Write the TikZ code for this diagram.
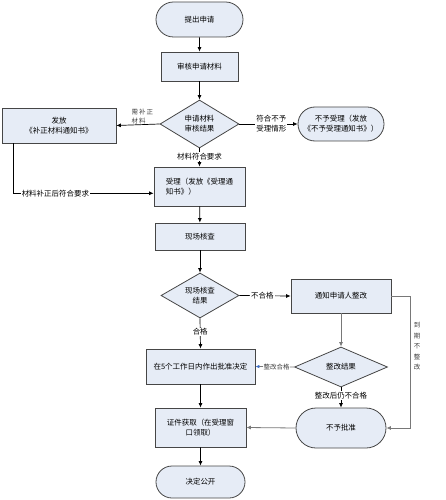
\documentclass[tikz,border=0pt]{standalone}
\usepackage{fontspec}
\setmainfont{Noto Sans CJK SC}
\usetikzlibrary{shapes.geometric,shapes.misc,arrows.meta}
\definecolor{boxfill}{RGB}{230,236,246}
\definecolor{boxline}{RGB}{70,70,70}
\definecolor{linegray}{RGB}{120,120,120}
\definecolor{tipblue}{RGB}{60,110,200}
\tikzset{
  every node/.style={font=\fontsize{7.5}{10}\selectfont, inner sep=1pt},
  procbox/.style={draw=boxline, fill=boxfill, line width=0.8bp, rectangle, align=center, inner sep=2pt},
  termbox/.style={draw=boxline, fill=boxfill, line width=0.8bp, rounded rectangle, align=center, inner sep=2pt},
  decbox/.style={draw=boxline, fill=boxfill, line width=0.8bp, diamond, aspect=1.6, align=center, inner sep=0pt},
  conn/.style={draw=black, line width=0.7bp, -{Latex[length=4.5bp,width=4bp]}},
  gconn/.style={draw=linegray, line width=0.8bp, -{Latex[length=4.5bp,width=4bp]}},
  onlab/.style={fill=white, inner sep=1pt},
  smalllab/.style={font=\fontsize{6.5}{8}\selectfont, text=black!75, align=left, inner sep=0.5pt}
}
\begin{document}
\begin{tikzpicture}[x=1bp,y=-1bp]
\useasboundingbox (0,0) rectangle (446,500);

\node[termbox, minimum width=91bp, minimum height=35bp] (start) at (199.5,19.5) {提出申请};
\node[procbox, minimum width=77bp, minimum height=29bp] (review) at (199.5,66.5) {审核申请材料};
\node[decbox, minimum width=79bp, minimum height=48bp] (d1) at (199.5,124) {申请材料\\审核结果};
\node[procbox, minimum width=114bp, minimum height=35bp] (supp) at (59,125.5) {发放\\《补正材料通知书》};
\node[termbox, minimum width=90bp, minimum height=34bp] (reject1) at (341,124) {不予受理（发放\\《不予受理通知书》）};
\node[procbox, minimum width=91bp, minimum height=39bp, align=left] (accept) at (199.5,186.5) {受理（发放《受理通\\知书》）};
\node[procbox, minimum width=90bp, minimum height=27bp] (check) at (200,236.5) {现场核查};
\node[decbox, minimum width=78bp, minimum height=45bp] (d2) at (200,295.5) {现场核查\\结果};
\node[procbox, minimum width=100bp, minimum height=34bp] (notify) at (341,296) {通知申请人整改};
\node[procbox, minimum width=109bp, minimum height=35bp] (approve) at (200.5,366.5) {在5个工作日内作出批准决定};
\node[decbox, minimum width=93bp, minimum height=40bp] (d3) at (341,367) {整改结果};
\node[termbox, minimum width=94bp, minimum height=40bp] (deny) at (341,428) {不予批准};
\node[procbox, minimum width=91bp, minimum height=39bp] (cert) at (200.5,427.5) {证件获取（在受理窗\\口领取）};
\node[termbox, minimum width=93bp, minimum height=32bp] (pub) at (200.5,482) {决定公开};

\coordinate (suppdown) at (13.3,193.3);
\coordinate (acceptin) at (accept.west |- suppdown);
\coordinate (rightup) at (410,296);
\coordinate (rightdown) at (410,428);

\draw[conn] (start) -- (review);
\draw[conn] (review) -- (d1);
\draw[conn] (d1.west) -- node[above, smalllab, pos=0.4, font=\fontsize{6.5}{9}\selectfont] {需\,补\,正\\材\,料} (supp.east);
\draw[conn] (d1.east) -- node[onlab, align=left, pos=0.55] {符合不予\\受理情形} (reject1.west);
\draw[conn] (d1.south) -- node[onlab, pos=0.45] {材料符合要求} (accept.north);
\draw[conn] (supp.south -| suppdown) -- (suppdown) -- node[onlab, pos=0.3] {材料补正后符合要求} (acceptin);
\draw[conn] (accept) -- (check);
\draw[conn] (check) -- (d2);
\draw[conn] (d2.east) -- node[onlab, pos=0.45] {不合格} (notify.west);
\draw[conn] (d2.south) -- node[onlab, pos=0.45] {合格} (approve.north);
\draw[gconn] (notify.south) -- (d3.north);
\draw[gconn] (notify.east) -- (rightup) -- node[right, smalllab, align=center, xshift=3bp, font=\fontsize{6.5}{10.5}\selectfont, pos=0.38] {到\\期\\不\\整\\改} (rightdown) -- (deny.east);
\draw[draw=linegray, line width=0.8bp, arrows={-{Latex[length=4bp,width=3.5bp,color=tipblue]}}] (d3.west) -- node[onlab, smalllab, pos=0.45] {整改合格} (approve.east);
\draw[conn] (d3.south) -- node[onlab, pos=0.4] {整改后仍不合格} (deny.north);
\draw[gconn] (deny.west) -- (cert.east);
\draw[conn] (approve) -- (cert);
\draw[conn] (cert) -- (pub);
\end{tikzpicture}
\end{document}
